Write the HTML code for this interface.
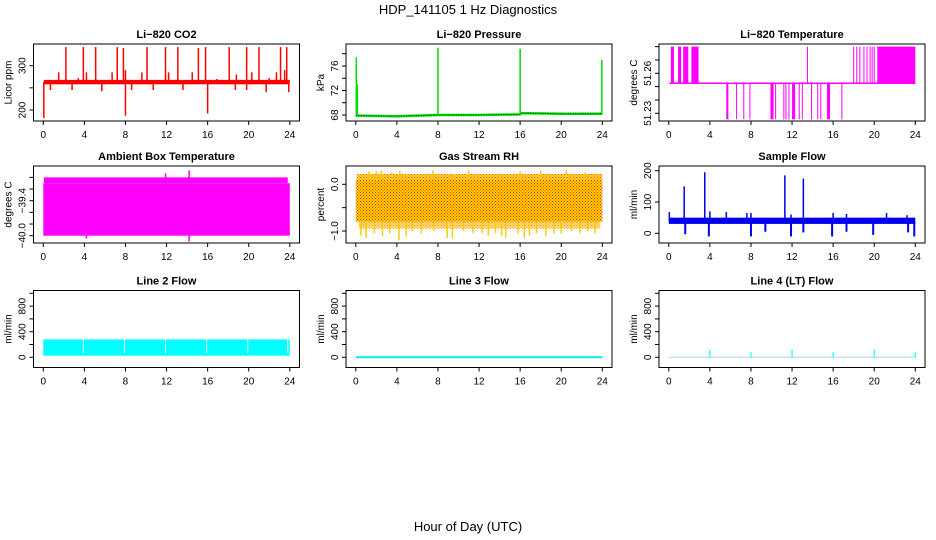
<!DOCTYPE html>
<html><head><meta charset="utf-8"><style>
html,body{margin:0;padding:0;background:#fff;}
svg{display:block;font-family:"Liberation Sans",sans-serif;}
</style></head><body>
<svg id="c" width="936" height="540" viewBox="0 0 936 540" xmlns="http://www.w3.org/2000/svg">
<defs>
<pattern id="rhpat" width="3" height="3" patternUnits="userSpaceOnUse"><rect width="3" height="3" fill="#ffd400"/><rect x="0" y="0" width="1" height="1" fill="#ff2000"/><rect x="1.5" y="1.5" width="1" height="1" fill="#ff2000"/></pattern>
</defs>
<text x="468" y="14" text-anchor="middle" font-size="13">HDP_141105  1 Hz Diagnostics</text>
<text x="468" y="531" text-anchor="middle" font-size="13">Hour of Day (UTC)</text>
</svg>
<script>
// ---- data ----
const hourTicks=[0,4,8,12,16,20,24];
const co2SpikeT=[2.2,3.9,5.1,7.2,7.8,10.1,11.9,13.1,15.1,15.8,18.1,19.8,21.0,23.1,23.7];
const co2SpikeV=[342,342,342,342,340,342,342,342,340,342,342,342,342,342,342];
const co2MinorT=[1.5,3.4,4.2,6.7,8.0,9.6,12.2,14.5,16.9,18.8,20.3,22.0,22.7,23.5];
const co2MinorV=[285,272,285,285,290,285,285,285,270,280,285,272,285,290];
const co2DipT=[0.05,0.7,2.8,5.7,8.0,8.6,10.7,13.6,16.0,18.7,19.8,21.7,23.9];
const co2DipV=[182,245,245,242,187,245,245,245,192,245,245,240,240];
const co2Base=[258,268];
const presBaseT=[0,4,8,12,16,16.1,20,24];
const presBaseV=[67.9,67.8,68.0,68.0,68.1,68.3,68.2,68.2];
const presSpikeT=[0.05,0.15,8.0,16.0,23.95];
const presSpikeV=[77.4,73.0,79.0,78.8,77.0];
const tempLevels=[51.2255,51.2525,51.28];
const tempHiBlocks=[[0.2,0.5],[0.9,1.2],[1.4,1.9],[2.2,2.9],[20.3,24]];
const tempHiLines=[13.5,18.0,18.3,18.6,19.0,19.3,19.6,19.8,20.0];
const tempLoBlocks=[[5.6,5.8],[9.9,10.2],[12.0,12.3],[15.4,15.7],[16.8,16.9]];
const tempLoLines=[6.6,7.3,7.9,10.4,11.2,11.4,11.7,12.7,13.0,13.9,14.5,14.8];
const ambBand=[-40.0,-39.1,-39.0];
const ambSpikeT=[11.9,14.2,14.2,4.2];
const ambSpikeV=[-38.93,-38.88,-40.1,-40.05];
const rhBand=[-0.8,0.1,0.22];
const rhDownT=[0.5,1.0,1.8,2.6,3.3,4.2,4.9,5.5,6.4,7.6,8.9,9.4,10.5,11.4,12.3,12.9,13.6,14.2,14.6,15.8,16.4,16.9,17.6,18.5,19.3,20.0,21.0,21.8,22.6,23.3];
const rhDownV=[-1.1,-1.15,-1.05,-1.1,-1.05,-1.2,-1.1,-1.0,-1.05,-1.0,-1.15,-1.15,-1.0,-1.05,-1.05,-1.1,-1.05,-1.1,-1.15,-1.05,-1.15,-1.1,-1.05,-1.1,-1.05,-1.05,-1.0,-1.05,-1.0,-1.05];
const rhUpT=[1.3,2.0,2.5,3.5,4.3,7.5,9.5,11.0,16.0,18.0,20.5,22.3];
const rhUpV=[0.28,0.28,0.3,0.25,0.28,0.3,0.22,0.3,0.28,0.3,0.3,0.25];
const sfBand=[30,50];
const sfSpikeT=[0.05,1.5,3.5,4.0,5.6,7.6,8.0,11.3,11.9,13.1,16.0,17.3,21.2,23.2];
const sfSpikeV=[68,150,195,70,68,65,65,185,60,175,65,62,65,58];
const sfDipT=[1.6,3.9,8.0,9.4,11.9,13.1,15.9,17.3,19.9,23.3,23.9];
const sfDipV=[-3,-10,-10,5,-10,3,-10,5,-5,3,-10];
const l2Band=[25,280];
const l2Gaps=[3.9,7.9,11.9,15.9,19.9,23.8];
const l4SpikeT=[4,8,12,16,20,24];
const l4SpikeV=[120,80,120,80,120,80];

// ---- layout ----
const svg=document.getElementById('c');
const NS='http://www.w3.org/2000/svg';
const colL=[33.5,346,659], rowT=[44,166,290.5], BW=266, BH=77;
function el(tag,attrs,parent){const e=document.createElementNS(NS,tag);for(const k in attrs)e.setAttribute(k,attrs[k]);(parent||svg).appendChild(e);return e;}
function mkX(c){return t=>colL[c]+9.8+t*246.5/24;}
function mkY(v0,p0,v1,p1){return v=>p0+(v-v0)*(p1-p0)/(v1-v0);}

function panel(c,r,name,title,ylab,y,ticks,labels,fmt){
  const g=el('g',{});
  
  
  const L=colL[c],T=rowT[r],x=mkX(c);
  const t=el('text',{x:L+BW/2,y:T-6,'text-anchor':'middle','font-size':'11','font-weight':'bold'},g);
  t.textContent=title;
  
  
  const plot=el('g',{},g);
  
  
  const box=el('rect',{x:L,y:T,width:BW,height:BH,fill:'none',stroke:'#000','stroke-width':1},g);
  
  
  const xa=el('g',{},g);
  
  
  const B=T+BH;
  hourTicks.forEach(h=>{
    el('line',{x1:x(h),x2:x(h),y1:B,y2:B+4,stroke:'#000'},xa);
    const tl=el('text',{x:x(h),y:B+17,'text-anchor':'middle','font-size':'10'},xa);
    tl.textContent=h;
    
    
  });
  const ya=el('g',{},g);
  
  
  ticks.forEach(v=>el('line',{x1:L-4,x2:L,y1:y(v),y2:y(v),stroke:'#000'},ya));
  labels.forEach(v=>{
    const tx=L-8,ty=y(v);
    const tl=el('text',{x:tx,y:ty,'text-anchor':'middle','font-size':'10',transform:`rotate(-90 ${tx} ${ty})`},ya);
    tl.textContent=fmt(v);
    
    
  });
  const yx=L-22,yy=T+BH/2;
  const yl=el('text',{x:yx,y:yy,'text-anchor':'middle','font-size':'10',transform:`rotate(-90 ${yx} ${yy})`},g);
  yl.textContent=ylab;
  
  
  return {g:plot,x,y};
}
const mf=s=>s.replace('-','\u2212');
function vl(p,t,a,b,col,w){return el('line',{x1:p.x(t),x2:p.x(t),y1:p.y(a),y2:p.y(b),stroke:col,'stroke-width':w||1},p.g);}
function band(p,t0,t1,a,b,fill){const y1=p.y(a),y2=p.y(b);return el('rect',{x:p.x(t0),y:Math.min(y1,y2),width:p.x(t1)-p.x(t0),height:Math.abs(y2-y1),fill:fill},p.g);}

// 1 CO2
{const p=panel(0,0,'co2','Li\u2212820 CO2','Licor ppm',mkY(200,110,300,65.7),[200,250,300],[200,300],v=>String(v));
 const b=band(p,0.05,24,co2Base[0],co2Base[1],'#ff0000');
 co2SpikeT.forEach((t,i)=>{const l=vl(p,t,263,co2SpikeV[i],'#ff0000',1.5);});
 co2MinorT.forEach((t,i)=>{const l=vl(p,t,263,co2MinorV[i],'#ff0000',1.5);});
 co2DipT.forEach((t,i)=>{const l=vl(p,t,263,co2DipV[i],'#ff0000',1.5);});
}
// 2 Pressure
{const p=panel(1,0,'pressure','Li\u2212820 Pressure','kPa',mkY(68,115,76,66),[68,70,72,74,76,78],[68,72,76],v=>String(v));
 const pts=presBaseT.map((t,i)=>p.x(t)+','+p.y(presBaseV[i])).join(' ');
 const pl=el('polyline',{points:pts,fill:'none',stroke:'#00dd00','stroke-width':2.5},p.g);
 
 const pd=el('polyline',{points:pts,fill:'none',stroke:'#000','stroke-width':0.7,'stroke-dasharray':'1 1.5'},p.g);
 
 presSpikeT.forEach((t,i)=>{const l=vl(p,t,68,presSpikeV[i],'#00dd00',1.5);});
}
// 3 Temperature
{const p=panel(2,0,'li820-temp','Li\u2212820 Temperature','degrees C',mkY(51.23,113.3,51.26,73.3),[51.23,51.24,51.25,51.26,51.27,51.28],[51.23,51.26],v=>v.toFixed(2));
 const m=el('line',{x1:p.x(0.05),x2:p.x(24),y1:p.y(tempLevels[1]),y2:p.y(tempLevels[1]),stroke:'#ff00ff','stroke-width':1.5},p.g);
 
 tempHiBlocks.forEach(b=>{const r=band(p,b[0],b[1],tempLevels[1]-0.0005,tempLevels[2],'#ff00ff');});
 tempHiLines.forEach(t=>{const l=vl(p,t,tempLevels[1],tempLevels[2],'#ff00ff',1);});
 tempLoBlocks.forEach(b=>{const r=band(p,b[0],b[1],tempLevels[0],tempLevels[1],'#ff00ff');});
 tempLoLines.forEach(t=>{const l=vl(p,t,tempLevels[0],tempLevels[1],'#ff00ff',1);});
}
// 4 Ambient
{const p=panel(0,1,'ambient-temp','Ambient Box Temperature','degrees C',mkY(-40,235.7,-39.4,200.7),[-40,-39.8,-39.6,-39.4,-39.2,-39.0],[-40,-39.4],v=>mf(v.toFixed(1)));
 const a=band(p,0,24,ambBand[0],ambBand[1],'#ff00ff');
 const b=band(p,0.05,23.8,ambBand[1],ambBand[2],'#ff00ff');
 ambSpikeT.forEach((t,i)=>{const l=vl(p,t,-39.5,ambSpikeV[i],'#ff00ff',1.5);});
}
// 5 RH
{const p=panel(1,1,'rh','Gas Stream RH','percent',mkY(0,184.3,-1,231),[-1,-0.5,0],[-1,0],v=>mf(v.toFixed(1)));
 const a=band(p,0,24,rhBand[0],rhBand[1],'url(#rhpat)');
 const b=band(p,0.1,24,rhBand[1],rhBand[2],'url(#rhpat)');b.setAttribute('opacity','0.85');
 const c=band(p,0.3,23.8,rhBand[0],-0.95,'url(#rhpat)');c.setAttribute('opacity','0.6');
 rhDownT.forEach((t,i)=>{const l=vl(p,t,-0.8,rhDownV[i],'#ffcc00',1.5);});
 rhUpT.forEach((t,i)=>{const l=vl(p,t,0.1,rhUpV[i],'#ffcc00',1.5);});
}
// 6 Sample flow
{const p=panel(2,1,'sample-flow','Sample Flow','ml/min',mkY(0,233.3,200,170.7),[0,100,200],[0,100,200],v=>String(v));
 const a=band(p,0,24,sfBand[0],sfBand[1],'#0000ee');
 sfSpikeT.forEach((t,i)=>{const l=vl(p,t,40,sfSpikeV[i],'#0000ee',1.5);});
 sfDipT.forEach((t,i)=>{const l=vl(p,t,40,sfDipV[i],'#0000ee',2);});
}
// 7-9 line flows
const fy=mkY(0,357.3,1000,293.3), ft=[0,200,400,600,800,1000], fl=[0,400,800];
{const p=panel(0,2,'line2-flow','Line 2 Flow','ml/min',fy,ft,fl,v=>String(v));
 const a=band(p,0,24,l2Band[0],l2Band[1],'#00ffff');
 l2Gaps.forEach(t=>{const l=vl(p,t,l2Band[0]+40,l2Band[1],'#ffffff',1);});
}
{const p=panel(1,2,'line3-flow','Line 3 Flow','ml/min',fy,ft,fl,v=>String(v));
 const l=el('line',{x1:p.x(0),x2:p.x(24),y1:p.y(0),y2:p.y(0),stroke:'#00eeee','stroke-width':2},p.g);
 
}
{const p=panel(2,2,'line4-flow','Line 4 (LT) Flow','ml/min',fy,ft,fl,v=>String(v));
 const l=el('line',{x1:p.x(0),x2:p.x(24),y1:p.y(0),y2:p.y(0),stroke:'#9fdede','stroke-width':1},p.g);
 
 l4SpikeT.forEach((t,i)=>{const s=vl(p,t,0,l4SpikeV[i],'#00ffff',1.2);});
}
</script>
</body></html>
